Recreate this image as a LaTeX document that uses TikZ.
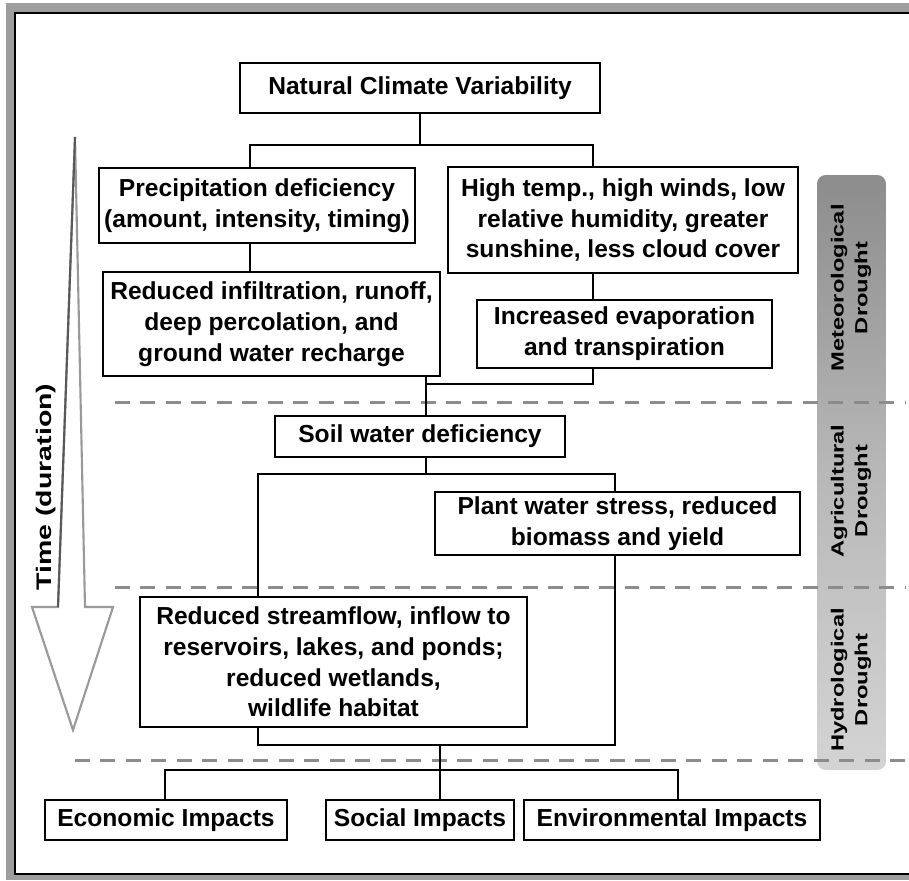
\documentclass[tikz,border=0pt]{standalone}
\usepackage{fontspec}
\setmainfont{Liberation Sans}
\newfontfamily\widefont[FakeStretch=1.35]{Liberation Sans}
\usepackage{tikz}

\tikzset{
  box/.style={draw, line width=1.3pt, fill=white, align=center, inner sep=0pt,
              font=\fontsize{14}{17.5}\selectfont\bfseries},
  link/.style={line width=1pt},
  stage/.style={draw=black!45, line width=1.7pt, dash pattern=on 8.5pt off 6pt},
  bandlabel/.style={rotate=90, align=center,
              font=\widefont\fontsize{10}{13.5}\selectfont\bfseries}
}

\begin{document}
\begin{tikzpicture}[x=0.02cm, y=-0.02cm]   % one unit = one pixel of the target
      \useasboundingbox (0,0) rectangle (909,880);

      % Frame
      \fill[black!38] (6,3) rectangle (909,880);
      \fill[white] (15,13) rectangle (909,874);
      \draw[line width=1.2pt] (909,13) -- (15,13) -- (15,874) -- (909,874);

      % Drought band on the right
      \shade[rounded corners=5pt, top color=black!45, bottom color=black!17,
             middle color=black!28] (817,175) rectangle (886,770);
      \node (meteo) [bandlabel] at (851,288) {Meteorological\\Drought};
      \node (agri) [bandlabel] at (851,491) {Agricultural\\Drought};
      \node (hydro) [bandlabel] at (851,680) {Hydrological\\Drought};

      % Time arrow
      \draw[line width=1.2pt, draw=black!40, fill=white]
        (75,137) -- (85,607) -- (113,607) -- (73,730) -- (32,607) -- (58,607) -- cycle;
      \draw[line width=1.2pt, draw=black!65] (75,137) -- (58,607);
      \node (time) [rotate=90, font=\widefont\fontsize{12}{14}\selectfont\bfseries]
        at (46,487) {Time (duration)};

      % Stage boundaries
      \draw[stage] (115,402) -- (905,402);
      \draw[stage] (115,587) -- (905,587);
      \draw[stage] (75,760) -- (905,760);

      % Boxes
      \node (ncv) [box, minimum width=7.2cm, minimum height=1cm] at (420,88)
        {Natural Climate Variability};
      \node (precip) [box, minimum width=6.32cm, minimum height=1.5cm] at (257,205.5)
        {Precipitation deficiency\\(amount, intensity, timing)};
      \node (hightemp) [box, minimum width=7cm, minimum height=2.12cm] at (623,220)
        {High temp., high winds, low\\relative humidity, greater\\sunshine, less cloud cover};
      \node (infil) [box, minimum width=6.74cm, minimum height=2.08cm] at (271.5,324)
        {Reduced infiltration, runoff,\\deep percolation, and\\ground water recharge};
      \node (evap) [box, minimum width=5.9cm, minimum height=1.36cm] at (624.5,334)
        {Increased evaporation\\and transpiration};
      \node (soil) [box, minimum width=5.8cm, minimum height=0.82cm] at (420,436.5)
        {Soil water deficiency};
      \node (plant) [box, minimum width=7.3cm, minimum height=1.26cm] at (617.5,523.5)
        {Plant water stress, reduced\\biomass and yield};
      \node (stream) [box, minimum width=7.74cm, minimum height=2.6cm] at (333.5,662)
        {Reduced streamflow, inflow to\\reservoirs, lakes, and ponds;\\reduced wetlands,\\wildlife habitat};
      \node (econ) [box, minimum width=4.84cm, minimum height=0.8cm] at (166,820)
        {Economic Impacts};
      \node (social) [box, minimum width=3.76cm, minimum height=0.8cm] at (420,820)
        {Social Impacts};
      \node (env) [box, minimum width=5.92cm, minimum height=0.8cm] at (672,820)
        {Environmental Impacts};

      % Meteorological links
      \coordinate (leftdrop) at (250,145);
      \coordinate (rightdrop) at (593,145);
      \coordinate (midline) at (426,384);
      \draw[link] (ncv.south) -- (ncv.south |- leftdrop);
      \draw[link] (leftdrop |- precip.north) -- (leftdrop) -- (rightdrop) -- (rightdrop |- hightemp.north);
      \draw[link] (leftdrop |- precip.south) -- (leftdrop |- infil.north);
      \draw[link] (rightdrop |- hightemp.south) -- (rightdrop |- evap.north);
      \draw[link] (midline |- infil.south) -- (midline |- soil.north);
      \draw[link] (rightdrop |- evap.south) |- (midline);

      % Agricultural and hydrological links
      \coordinate (soilfork) at (426,474);
      \coordinate (hydroleft) at (258,474);
      \coordinate (agriright) at (615,474);
      \draw[link] (soilfork |- soil.south) -- (soilfork);
      \draw[link] (hydroleft |- stream.north) -- (hydroleft) -- (agriright) -- (agriright |- plant.north);
      \coordinate (joinleft) at (258,745);
      \coordinate (joinright) at (615,745);
      \draw[link] (hydroleft |- stream.south) -- (joinleft) -- (joinright) -- (agriright |- plant.south);

      % Impact links
      \coordinate (impactfork) at (440,745);
      \coordinate (econdrop) at (165,770);
      \coordinate (envdrop) at (678,770);
      \draw[link] (impactfork) -- (impactfork |- social.north);
      \draw[link] (econdrop |- econ.north) -- (econdrop) -- (envdrop) -- (envdrop |- env.north);
\end{tikzpicture}
\end{document}
